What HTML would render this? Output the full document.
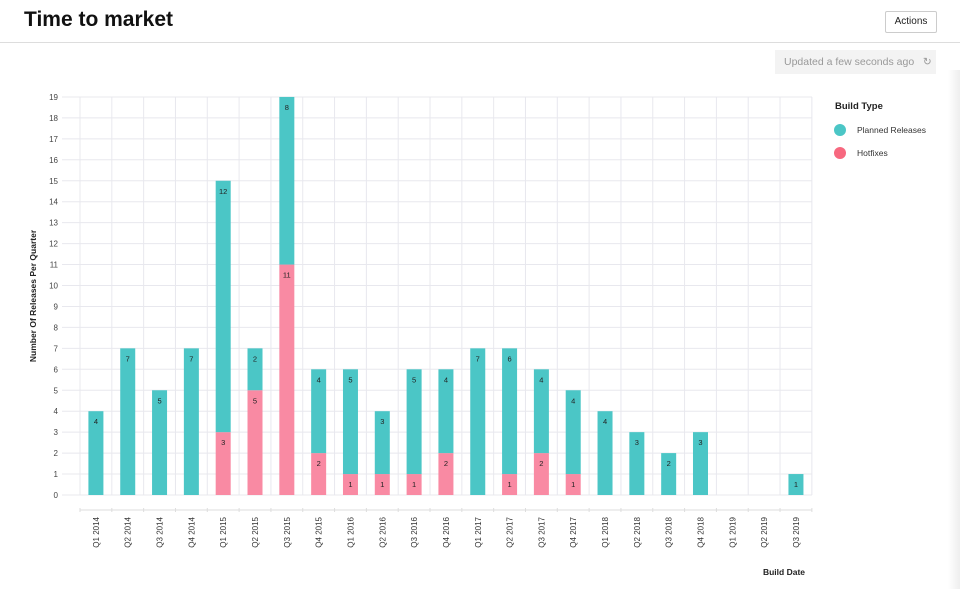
<!DOCTYPE html><html><head><style>
body{margin:0;width:960px;height:589px;background:#fff;font-family:"Liberation Sans",sans-serif;overflow:hidden;position:relative}
.t{position:absolute;left:24px;top:8px;font-size:21px;font-weight:bold;color:#111}
.hr{position:absolute;left:0;top:42px;width:960px;height:1px;background:#ddd}
.act{position:absolute;left:885px;top:11px;width:50px;height:20px;border:1px solid #ccc;border-radius:2px;font-size:10px;line-height:20px;text-align:center;color:#222}
.upd{position:absolute;left:775px;top:50px;width:161px;height:24px;background:#f3f3f3;font-size:10.5px;color:#999;line-height:24px;padding-left:9px;box-sizing:border-box}
.sh{position:absolute;left:948px;top:70px;width:12px;height:519px;background:linear-gradient(to right,#fff,#eee)}
</style></head><body>
<div class="t">Time to market</div><div class="hr"></div><div class="act">Actions</div>
<div class="upd">Updated a few seconds ago &nbsp;&nbsp;↻</div><div class="sh"></div>
<svg width="960" height="589" style="position:absolute;left:0;top:0" font-family="Liberation Sans, sans-serif">
<g id="g"></g>
</svg>
<script>
var s='',y0=495,u=20.95,x0=80,w=31.82;
for(var i=0;i<=19;i++){var y=y0-i*u;s+='<line x1="62" x2="812" y1="'+y+'" y2="'+y+'" stroke="#e8e8ee"/>';s+='<text x="58" y="'+(y+3)+'" font-size="8" fill="#444" text-anchor="end">'+i+'</text>';}
for(var k=0;k<=23;k++){var x=x0+k*w;s+='<line x1="'+x+'" x2="'+x+'" y1="97" y2="495" stroke="#e8e8ee"/>';s+='<line x1="'+x+'" x2="'+x+'" y1="508" y2="512" stroke="#ddd"/>';}
s+='<line x1="80" x2="812" y1="510" y2="510" stroke="#ddd"/>';
var d=[[4,0],[7,0],[5,0],[7,0],[12,3],[2,5],[8,11],[4,2],[5,1],[3,1],[5,1],[4,2],[7,0],[6,1],[4,2],[4,1],[4,0],[3,0],[2,0],[3,0],[0,0],[0,0],[1,0]];
var n=['Q1 2014','Q2 2014','Q3 2014','Q4 2014','Q1 2015','Q2 2015','Q3 2015','Q4 2015','Q1 2016','Q2 2016','Q3 2016','Q4 2016','Q1 2017','Q2 2017','Q3 2017','Q4 2017','Q1 2018','Q2 2018','Q3 2018','Q4 2018','Q1 2019','Q2 2019','Q3 2019'];
d.forEach(function(v,k){var c=x0+(k+.5)*w,bx=c-7.5;var p=v[1],t=v[0];
if(p){s+='<rect x="'+bx+'" y="'+(y0-p*u)+'" width="15" height="'+(p*u)+'" fill="#f98aa3"/>';s+='<text x="'+c+'" y="'+(y0-p*u+13)+'" font-size="7.5" fill="#222" text-anchor="middle">'+p+'</text>';}
if(t){var top=y0-(p+t)*u;s+='<rect x="'+bx+'" y="'+top+'" width="15" height="'+(t*u)+'" fill="#4bc6c6"/>';s+='<text x="'+c+'" y="'+(top+13)+'" font-size="7.5" fill="#222" text-anchor="middle">'+t+'</text>';}
s+='<text transform="translate('+(c+3)+',517) rotate(-90)" font-size="8" fill="#333" text-anchor="end">'+n[k]+'</text>';});
s+='<text transform="translate(36,296) rotate(-90)" font-size="8.5" font-weight="bold" fill="#222" text-anchor="middle">Number Of Releases Per Quarter</text>';
s+='<text x="805" y="575" font-size="8.5" font-weight="bold" fill="#222" text-anchor="end">Build Date</text>';
s+='<text x="835" y="109" font-size="9.5" font-weight="bold" fill="#222">Build Type</text>';
s+='<circle cx="840" cy="130" r="6" fill="#4bc6c6"/><text x="857" y="133" font-size="8.5" fill="#333">Planned Releases</text>';
s+='<circle cx="840" cy="153" r="6" fill="#f7687f"/><text x="857" y="156" font-size="8.5" fill="#333">Hotfixes</text>';
document.getElementById('g').innerHTML=s;
</script></body></html>
